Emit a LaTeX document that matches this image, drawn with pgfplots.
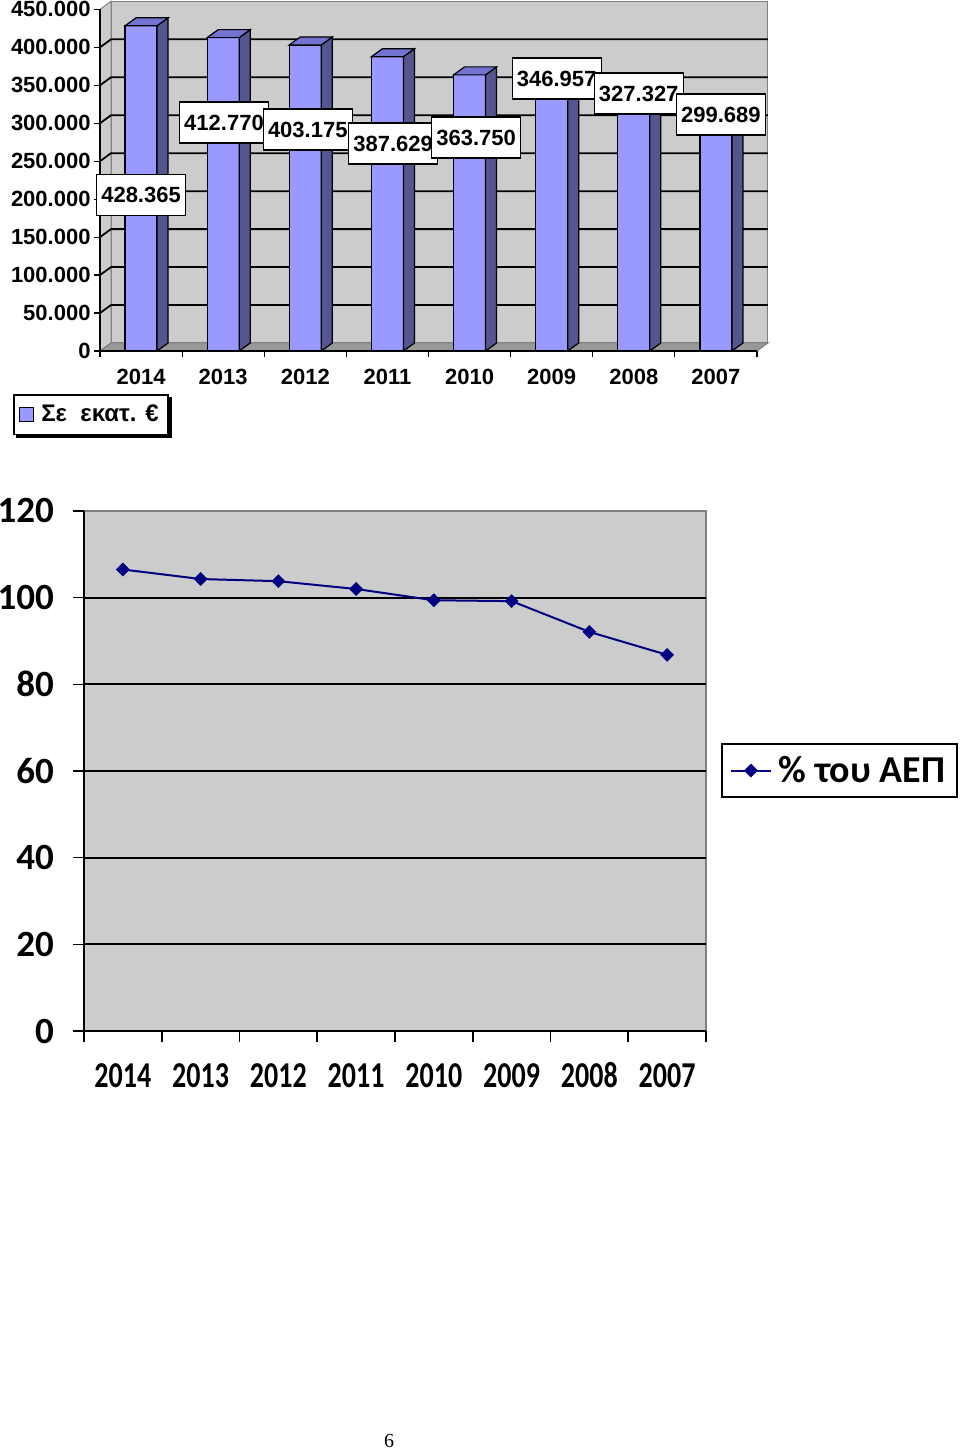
\documentclass[border=0pt]{standalone}
\usepackage{pgfplots}
\pgfplotsset{compat=1.18}
\usepackage{fontspec}
\setmainfont{Liberation Sans}
\newfontfamily\calibri{Carlito}
\newfontfamily\timesf{Liberation Serif}
\definecolor{barfront}{HTML}{9999FF}
\definecolor{barside}{HTML}{555590}
\definecolor{bartop}{HTML}{7373D2}
\definecolor{wall}{HTML}{CCCCCC}
\definecolor{floorc}{HTML}{999999}
\definecolor{navyc}{HTML}{000080}
\newcommand{\yr}[1]{\scalebox{1}[1.3]{#1}}

\begin{document}
\begin{tikzpicture}
% ---------------- top chart ----------------
\begin{axis}[
  set layers,
  at={(50pt,549.5pt)}, anchor=south west,
  scale only axis, width=328.5pt, height=170.8pt,
  xmin=-0.5, xmax=7.5, ymin=0, ymax=450,
  clip=false,
  axis x line*=bottom, axis y line*=left,
  axis line style={black, line width=0.6pt},
  xtick={0,...,7},
  xticklabels={2014,2013,2012,2011,2010,2009,2008,2007},
  minor xtick={-0.5,0.5,...,7.5},
  major x tick style={draw=none},
  minor tick length=3pt,
  ytick={0,50,...,450},
  yticklabels={0,50.000,100.000,150.000,200.000,250.000,300.000,350.000,400.000,450.000},
  major tick length=3pt,
  tick align=outside,
  tick style={black, line width=0.6pt},
  tick label style={font=\bfseries\fontsize{11}{11}\selectfont},
  xticklabel style={yshift=-2.5pt},
  yticklabel style={xshift=1.8pt},
  legend style={name=leg1, at={(-0.1324,-0.1259)}, anchor=north west, draw=black, line width=0.8pt,
    fill=white, font=\bfseries\fontsize{12}{12}\selectfont, inner xsep=2.5pt, inner ysep=3pt},
  legend image code/.code={\draw[fill=barfront, draw=black, line width=0.5pt] (0pt,-3.5pt) rectangle (7pt,3.5pt); \path[draw=none, fill=none] (0pt,0pt) -- (9pt,0pt);},
]
\pgfplotsextra{%
\begin{pgfonlayer}{axis background}
  \fill[wall, draw=gray, line width=0.5pt] ([shift={(5.5pt,4pt)}]axis cs:-0.5,0) rectangle ([shift={(5.5pt,4pt)}]axis cs:7.5,450);
  \fill[wall, draw=gray, line width=0.5pt] (axis cs:-0.5,0) -- ([shift={(5.5pt,4pt)}]axis cs:-0.5,0) -- ([shift={(5.5pt,4pt)}]axis cs:-0.5,450) -- (axis cs:-0.5,450) -- cycle;
  \fill[floorc, draw=gray, line width=0.5pt] (axis cs:-0.5,0) -- (axis cs:7.5,0) -- ([shift={(5.5pt,4pt)}]axis cs:7.5,0) -- ([shift={(5.5pt,4pt)}]axis cs:-0.5,0) -- cycle;
  \pgfplotsinvokeforeach{50,100,150,200,250,300,350,400}{
    \draw[black, line width=0.9pt] (axis cs:-0.5,##1) -- ([shift={(5.5pt,4pt)}]axis cs:-0.5,##1) -- ([shift={(5.5pt,4pt)}]axis cs:7.5,##1);
  }
\end{pgfonlayer}}
\addplot[forget plot, only marks, mark=*, mark size=0pt, mark options={draw=none, fill=none},
  scatter, point meta=y,
  visualization depends on={rawy \as \rawy},
  scatter/@pre marker code/.code={%
    \pgfmathsetmacro\hf{-\rawy*0.379556}%
    \pgfmathsetmacro\hb{4-\rawy*0.379556}%
    \fill[barside, draw=black, line width=0.6pt] (8pt,0pt) -- (13.5pt,4pt) -- (13.5pt,\hb pt) -- (8pt,\hf pt) -- cycle;
    \fill[bartop, draw=black, line width=0.6pt] (-8pt,0pt) -- (8pt,0pt) -- (13.5pt,4pt) -- (-2.5pt,4pt) -- cycle;
  },
  scatter/@post marker code/.code={},
] coordinates {(0,428.365) (1,412.770) (2,403.175) (3,387.629) (4,363.750) (5,346.957) (6,327.327) (7,299.689)};
\addplot[ybar, bar width=16pt, bar shift=0pt, fill=barfront, draw=black, line width=0.6pt]
  coordinates {(0,428.365) (1,412.770) (2,403.175) (3,387.629) (4,363.750) (5,346.957) (6,327.327) (7,299.689)};
\addlegendentry{Σε\ \ εκατ. €}
\tikzset{lab/.style={fill=white, draw=black, line width=0.6pt, minimum width=44.5pt, minimum height=20.5pt, inner sep=0pt, font=\bfseries\fontsize{11}{11}\selectfont}}
\pgfplotsextra{%
\begin{pgfonlayer}{axis foreground}
\node[lab] at (axis cs:0,205.5) {428.365};
\node[lab] at (axis cs:1.01,301.0) {412.770};
\node[lab] at (axis cs:2.03,291.8) {403.175};
\node[lab] at (axis cs:3.07,273.3) {387.629};
\node[lab] at (axis cs:4.08,281.2) {363.750};
\node[lab] at (axis cs:5.06,359.0) {346.957};
\node[lab] at (axis cs:6.06,339.2) {327.327};
\node[lab] at (axis cs:7.06,311.5) {299.689};
\end{pgfonlayer}}
\end{axis}
\draw[black, line width=1.5pt] ([xshift=0.75pt,yshift=-1.5pt]leg1.north east) -- ([xshift=0.75pt,yshift=-0.75pt]leg1.south east) -- ([xshift=1.5pt,yshift=-0.75pt]leg1.south west);
% ---------------- bottom chart ----------------
\begin{axis}[
  at={(42pt,209.5pt)}, anchor=south west,
  scale only axis, width=311pt, height=260pt,
  xmin=-0.5, xmax=7.5, ymin=0, ymax=120,
  axis background/.style={fill=wall, draw=gray, line width=0.6pt},
  axis x line*=bottom, axis y line*=left,
  axis line style={black, line width=0.8pt},
  xtick={0,...,7},
  xticklabels={\yr{2014},\yr{2013},\yr{2012},\yr{2011},\yr{2010},\yr{2009},\yr{2008},\yr{2007}},
  minor xtick={-0.5,0.5,...,7.5},
  major x tick style={draw=none},
  ytick={0,20,...,120},
  extra y ticks={20,40,60,80,100},
  extra y tick labels={},
  extra y tick style={grid=major, tick style={draw=none}},
  grid style={black, line width=1pt},
  tick align=outside,
  major tick length=5.5pt, minor tick length=5.5pt,
  tick style={black, line width=0.8pt},
  /pgf/number format/assume math mode=true,
  yticklabel style={font=\calibri\bfseries\fontsize{18.5}{18.5}\selectfont, xshift=-6pt},
  xticklabel style={font=\calibri\bfseries\fontsize{14}{14}\selectfont, anchor=base, yshift=-23pt},
  legend style={at={(1.024,0.554)}, anchor=north west, draw=black, line width=1pt,
    fill=white, font=\calibri\bfseries\fontsize{19}{19}\selectfont, inner xsep=4pt, inner ysep=4pt},
  legend image code/.code={\draw[mark repeat=2, mark phase=2, #1] plot coordinates {(0pt,0pt) (10pt,0pt) (20pt,0pt)}; \path[draw=none] (0pt,0pt) -- (22pt,0pt);},
]
\addplot[navyc, line width=1pt, mark=square*, mark size=1.95pt, mark options={rotate=45, fill=navyc, solid}]
  coordinates {(0,106.5) (1,104.3) (2,103.8) (3,102.0) (4,99.4) (5,99.2) (6,92.1) (7,86.8)};
\addlegendentry{\% του ΑΕΠ}
\end{axis}
\node[font=\timesf\fontsize{10}{10}\selectfont] at (194.5pt,4.5pt) {6};
\pgfresetboundingbox
\path[use as bounding box] (0,0) rectangle (480pt,725pt);
\end{tikzpicture}
\end{document}
